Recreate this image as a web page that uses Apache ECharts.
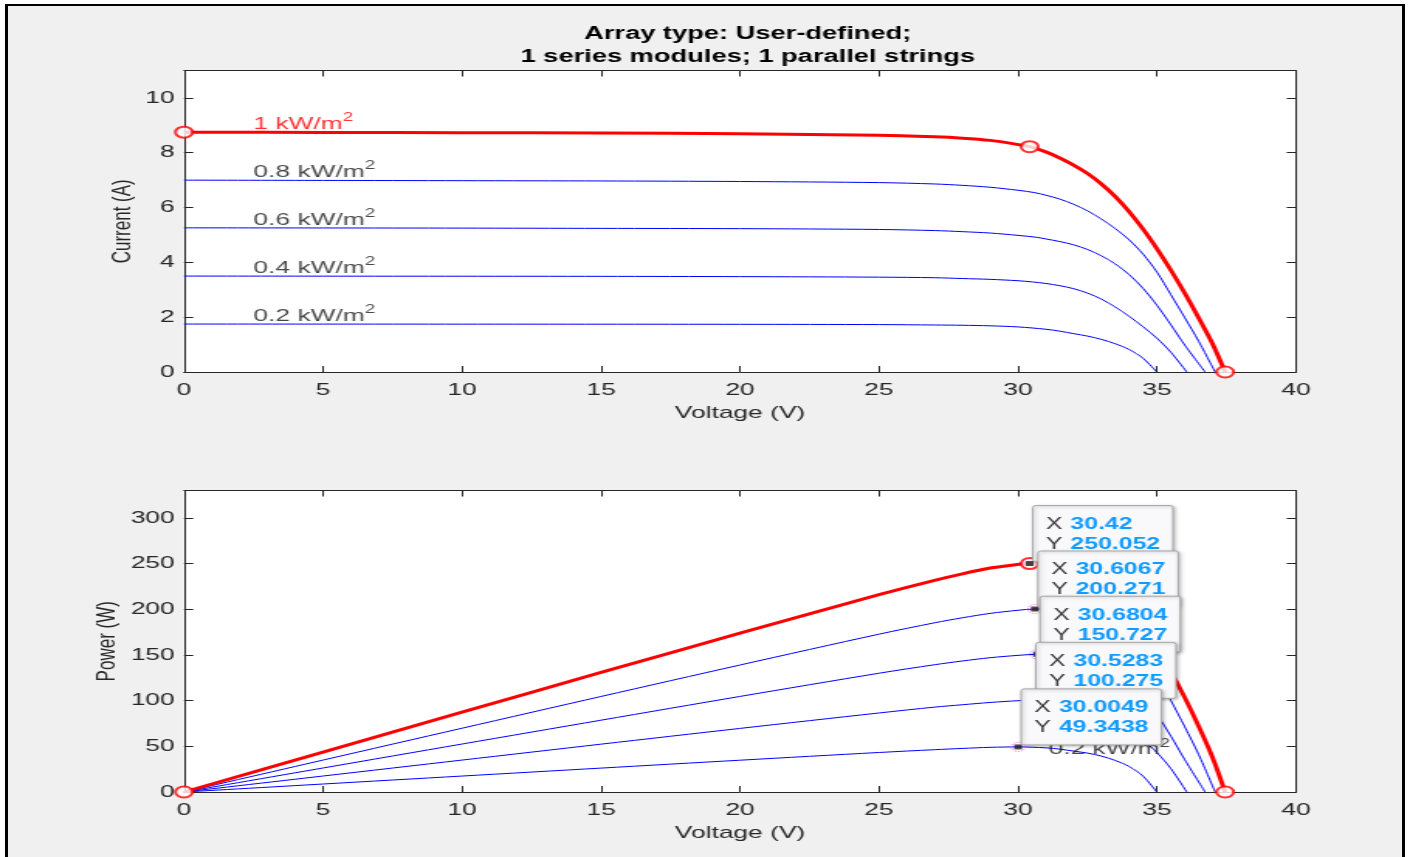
<!DOCTYPE html>
<html>
<head>
<meta charset="utf-8">
<title>PV array I-V and P-V characteristics</title>
<script src="https://cdn.jsdelivr.net/npm/echarts@6/dist/echarts.min.js"></script>
<style>
  html, body { margin: 0; padding: 0; width: 1410px; height: 857px; overflow: hidden; background: #fff; }
  #frame {
    position: absolute; left: 5px; top: 4px; width: 1400px; height: 900px;
    box-sizing: border-box; border: 3px solid #000; border-top-width: 2.5px; background: #f0f0f0;
  }
  /* the figure is laid out on a narrower canvas and widened horizontally */
  #chart {
    position: absolute; left: 0; top: 0; width: 910px; height: 857px;
    transform: scaleX(1.549451); transform-origin: 0 0;
  }
</style>
</head>
<body>
<div id="frame"></div>
<div id="chart"></div>
<script>
// ---- I-V / P-V samples per irradiance level ----
const volt10 = [0, 5, 10, 15, 20, 25, 27, 28, 29, 29.7, 30.42, 31, 31.5, 32, 32.5, 33, 33.5, 34, 34.5, 35, 35.5, 36, 36.5, 37, 37.45];
const curr10 = [8.75, 8.74, 8.73, 8.72, 8.69, 8.64, 8.58, 8.53, 8.45, 8.35, 8.22, 8.03, 7.81, 7.55, 7.24, 6.86, 6.40, 5.85, 5.21, 4.49, 3.71, 2.87, 1.97, 1.02, 0];
const pow10  = [0, 43.7, 87.3, 130.8, 173.8, 216.0, 231.7, 238.8, 245.1, 248.0, 250.052, 248.9, 246.0, 241.6, 235.3, 226.4, 214.4, 198.9, 179.7, 157.2, 131.7, 103.3, 71.9, 37.7, 0];

const volt08 = [0, 5, 10, 15, 20, 25, 27, 28, 29, 30, 30.6067, 31, 31.5, 32, 32.5, 33, 33.5, 34, 34.5, 35, 35.5, 36, 36.5, 37.09];
const curr08 = [7.00, 6.99, 6.98, 6.97, 6.95, 6.91, 6.86, 6.81, 6.74, 6.63, 6.543, 6.45, 6.31, 6.12, 5.88, 5.58, 5.23, 4.82, 4.30, 3.64, 2.82, 1.98, 1.12, 0];
const pow08  = [0, 34.95, 69.8, 104.55, 139.0, 172.75, 185.2, 190.7, 195.5, 198.9, 200.271, 199.95, 198.8, 195.8, 191.1, 184.1, 175.2, 163.9, 148.4, 127.4, 100.1, 71.3, 40.9, 0];

const volt06 = [0, 5, 10, 15, 20, 25, 27, 28, 29, 30, 30.6804, 31, 31.5, 32, 32.5, 33, 33.5, 34, 34.5, 35, 35.5, 36, 36.73];
const curr06 = [5.26, 5.255, 5.25, 5.24, 5.23, 5.20, 5.16, 5.12, 5.07, 4.985, 4.913, 4.855, 4.76, 4.64, 4.47, 4.24, 3.94, 3.55, 3.05, 2.43, 1.72, 0.98, 0];
const pow06  = [0, 26.28, 52.5, 78.6, 104.6, 130.0, 139.3, 143.4, 147.0, 149.55, 150.727, 150.5, 149.9, 148.5, 145.3, 139.9, 132.0, 120.7, 105.2, 85.05, 61.1, 35.3, 0];

const volt04 = [0, 5, 10, 15, 20, 25, 27, 28, 29, 30, 30.5283, 31, 31.5, 32, 32.5, 33, 33.5, 34, 34.5, 35, 35.5, 36.07];
const curr04 = [3.50, 3.497, 3.494, 3.49, 3.48, 3.46, 3.44, 3.41, 3.38, 3.33, 3.285, 3.23, 3.15, 3.04, 2.88, 2.66, 2.37, 2.03, 1.65, 1.23, 0.72, 0];
const pow04  = [0, 17.49, 34.94, 52.35, 69.6, 86.5, 92.9, 95.5, 98.0, 99.9, 100.275, 100.13, 99.2, 97.3, 93.6, 87.8, 79.4, 69.0, 56.9, 43.05, 25.6, 0];

const volt02 = [0, 5, 10, 15, 20, 25, 27, 28, 29, 30.0049, 31, 31.5, 32, 32.5, 33, 33.5, 34, 34.5, 34.99];
const curr02 = [1.75, 1.748, 1.746, 1.744, 1.74, 1.73, 1.715, 1.705, 1.685, 1.6445, 1.56, 1.49, 1.40, 1.31, 1.19, 1.03, 0.82, 0.50, 0];
const pow02  = [0, 8.74, 17.46, 26.16, 34.8, 43.25, 46.3, 47.7, 48.9, 49.3438, 48.36, 46.9, 44.8, 42.6, 39.3, 34.5, 27.9, 17.3, 0];

// short circuit, maximum power and open circuit points of the 1 kW/m2 curve
const keyVolt10 = [0, 30.42, 37.45];
const keyCurr10 = [8.75, 8.22, 0];
const keyPow10  = [0, 250.052, 0];

// maximum power points (data tips), 1 / 0.8 / 0.6 / 0.4 / 0.2 kW/m2
const mppVolt = [30.42, 30.6067, 30.6804, 30.5283, 30.0049];
const mppPow  = [250.052, 200.271, 150.727, 100.275, 49.3438];

const irradiance = ['1', '0.8', '0.6', '0.4', '0.2'];

// axis ticks
const voltTicks = [0, 5, 10, 15, 20, 25, 30, 35, 40];
const currTicks = [0, 2, 4, 6, 8, 10];
const powTicks  = [0, 50, 100, 150, 200, 250, 300];
const currMax = 11;
const powMax = 330;

// ---- chart ----
const FONT = "'Liberation Sans', Arial, Helvetica, sans-serif";
const AXIS_COLOR = '#262626';
const zip = (a, b) => a.map((x, i) => [x, b[i]]);

const curves = [
  { irr: irradiance[4], volt: volt02, curr: curr02, pow: pow02, color: '#0000ff', width: 1 },
  { irr: irradiance[3], volt: volt04, curr: curr04, pow: pow04, color: '#0000ff', width: 1 },
  { irr: irradiance[2], volt: volt06, curr: curr06, pow: pow06, color: '#0000ff', width: 1 },
  { irr: irradiance[1], volt: volt08, curr: curr08, pow: pow08, color: '#0000ff', width: 1 },
  { irr: irradiance[0], volt: volt10, curr: curr10, pow: pow10, color: '#ff0000', width: 3 }
];

function xAxisDef(gridIndex, position, withLabels) {
  return {
    type: 'value', gridIndex, position,
    min: voltTicks[0], max: voltTicks[voltTicks.length - 1], interval: voltTicks[1] - voltTicks[0],
    axisLine: { show: true, onZero: false, lineStyle: { color: AXIS_COLOR, width: 1 } },
    axisTick: { show: true, inside: true, length: 6, lineStyle: { color: AXIS_COLOR } },
    axisLabel: { show: withLabels, margin: 10, fontSize: 17, color: AXIS_COLOR, fontFamily: FONT },
    splitLine: { show: false },
    name: withLabels ? 'Voltage (V)' : '',
    nameLocation: 'middle', nameGap: 33, nameMoveOverlap: false,
    nameTextStyle: { fontSize: 17, color: AXIS_COLOR, fontFamily: FONT }
  };
}

function yAxisDef(gridIndex, position, ticks, max, name, nameGap) {
  const withLabels = position === 'left';
  return {
    type: 'value', gridIndex, position,
    min: ticks[0], max, interval: ticks[1] - ticks[0],
    axisLine: { show: true, onZero: false, lineStyle: { color: AXIS_COLOR, width: 1 } },
    axisTick: { show: true, inside: true, length: 6, lineStyle: { color: AXIS_COLOR } },
    axisLabel: { show: withLabels, margin: 6, fontSize: 17, color: AXIS_COLOR, fontFamily: FONT, showMaxLabel: false },
    splitLine: { show: false },
    name: withLabels ? name : '',
    nameLocation: 'middle', nameGap, nameMoveOverlap: false,
    nameTextStyle: { fontSize: 17, color: AXIS_COLOR, fontFamily: FONT }
  };
}

function curveLabel(irr, color) {
  return {
    show: true, position: [0, 0], align: 'left', verticalAlign: 'bottom', offset: [0, 4],
    formatter: () => '{b|' + irr + ' kW/m}{s|2}',
    rich: {
      b: { fontSize: 17, lineHeight: 24, color, fontFamily: FONT },
      s: { fontSize: 12, lineHeight: 12, verticalAlign: 'top', color, fontFamily: FONT }
    }
  };
}

const lineSmooth = 0.3;
const series = [];

// I-V curves
curves.forEach(c => {
  series.push({
    type: 'line', xAxisIndex: 0, yAxisIndex: 0, data: zip(c.volt, c.curr),
    showSymbol: false, symbol: 'none', silent: true, z: c.width > 1 ? 4 : 3,
    smooth: lineSmooth,
    lineStyle: { color: c.color, width: c.width }
  });
});
series.push({
  type: 'scatter', xAxisIndex: 0, yAxisIndex: 0, silent: true, z: 5, symbolSize: 0,
  data: curves.map(c => ({
    value: [2.5, c.curr[0]],
    label: curveLabel(c.irr, c.width > 1 ? '#ff0000' : '#1a1a1a')
  }))
});
series.push({
  type: 'scatter', xAxisIndex: 0, yAxisIndex: 0, silent: true, z: 6,
  data: zip(keyVolt10, keyCurr10), symbol: 'circle', symbolSize: 11,
  itemStyle: { color: '#ffffff', borderColor: '#ff0000', borderWidth: 2 }
});

// P-V curves
curves.forEach(c => {
  series.push({
    type: 'line', xAxisIndex: 2, yAxisIndex: 2, data: zip(c.volt, c.pow),
    showSymbol: false, symbol: 'none', silent: true, z: c.width > 1 ? 4 : 3,
    smooth: lineSmooth,
    lineStyle: { color: c.color, width: c.width }
  });
});
series.push({
  type: 'scatter', xAxisIndex: 2, yAxisIndex: 2, silent: true, z: 6,
  data: zip(mppVolt, mppPow), symbol: 'circle', symbolSize: 9,
  itemStyle: { color: 'rgba(0,0,0,0)', borderColor: '#ff40ff', borderWidth: 1, borderType: 'dotted' }
});
series.push({
  type: 'scatter', xAxisIndex: 2, yAxisIndex: 2, silent: true, z: 7,
  data: zip(keyVolt10, keyPow10), symbol: 'circle', symbolSize: 11,
  itemStyle: { color: '#ffffff', borderColor: '#ff0000', borderWidth: 2 }
});
series.push({
  type: 'scatter', xAxisIndex: 2, yAxisIndex: 2, silent: true, z: 8,
  data: zip(mppVolt, mppPow), symbol: 'rect', symbolSize: [5, 5],
  itemStyle: { color: '#1a1a1a' }
});
series.push({
  type: 'scatter', xAxisIndex: 2, yAxisIndex: 2, silent: true, z: 9, symbolSize: 0,
  data: [{ value: [31.1, 38], label: curveLabel(irradiance[4], '#1a1a1a') }]
});

// data tips at the maximum power points
series.push({
  type: 'custom', xAxisIndex: 2, yAxisIndex: 2, silent: true, z: 10,
  data: zip(mppVolt, mppPow),
  renderItem: (params, api) => {
    const v = api.value(0), p = api.value(1);
    const pt = api.coord([v, p]);
    const bx = pt[0] + 2, by = pt[1] - 58;
    const lab = { fill: '#3a3a3a', font: '16px ' + FONT, align: 'left', verticalAlign: 'middle' };
    const val = { fill: '#0f9bff', font: 'bold 16px ' + FONT, align: 'left', verticalAlign: 'middle' };
    return {
      type: 'group',
      children: [
        { type: 'rect', shape: { x: bx, y: by, width: 90.5, height: 56, r: 2 },
          style: { fill: '#f9f9fb', stroke: '#a8a8a8', lineWidth: 1,
                   shadowBlur: 3, shadowColor: 'rgba(0,0,0,0.25)', shadowOffsetX: 1, shadowOffsetY: 1 } },
        { type: 'text', style: Object.assign({ text: 'X', x: bx + 8.5, y: by + 19 }, lab) },
        { type: 'text', style: Object.assign({ text: String(v), x: bx + 24.3, y: by + 19 }, val) },
        { type: 'text', style: Object.assign({ text: 'Y', x: bx + 8.5, y: by + 39 }, lab) },
        { type: 'text', style: Object.assign({ text: String(p), x: bx + 24.3, y: by + 39 }, val) }
      ]
    };
  }
});

const chart = echarts.init(document.getElementById('chart'), null, { renderer: 'canvas' });
chart.setOption({
  animation: false,
  backgroundColor: 'transparent',
  textStyle: { fontFamily: FONT },
  title: {
    text: 'Array type: User-defined;\n1 series modules; 1 parallel strings',
    left: 477.6, top: 17, textAlign: 'center',
    textStyle: { fontSize: 17.6, fontWeight: 'bold', color: '#000', lineHeight: 23.5, fontFamily: FONT }
  },
  grid: [
    { left: 118.75, top: 70.5, width: 717.67, height: 301.5, show: true, backgroundColor: '#ffffff', borderWidth: 0, containLabel: false },
    { left: 118.75, top: 490.5, width: 717.67, height: 301.5, show: true, backgroundColor: '#ffffff', borderWidth: 0, containLabel: false }
  ],
  xAxis: [
    xAxisDef(0, 'bottom', true),
    xAxisDef(0, 'top', false),
    xAxisDef(1, 'bottom', true),
    xAxisDef(1, 'top', false)
  ],
  yAxis: [
    yAxisDef(0, 'left', currTicks, currMax, 'Current (A)', 31),
    yAxisDef(0, 'right', currTicks, currMax, '', 0),
    yAxisDef(1, 'left', powTicks, powMax, 'Power (W)', 40.5),
    yAxisDef(1, 'right', powTicks, powMax, '', 0)
  ],
  series
});
</script>
</body>
</html>
